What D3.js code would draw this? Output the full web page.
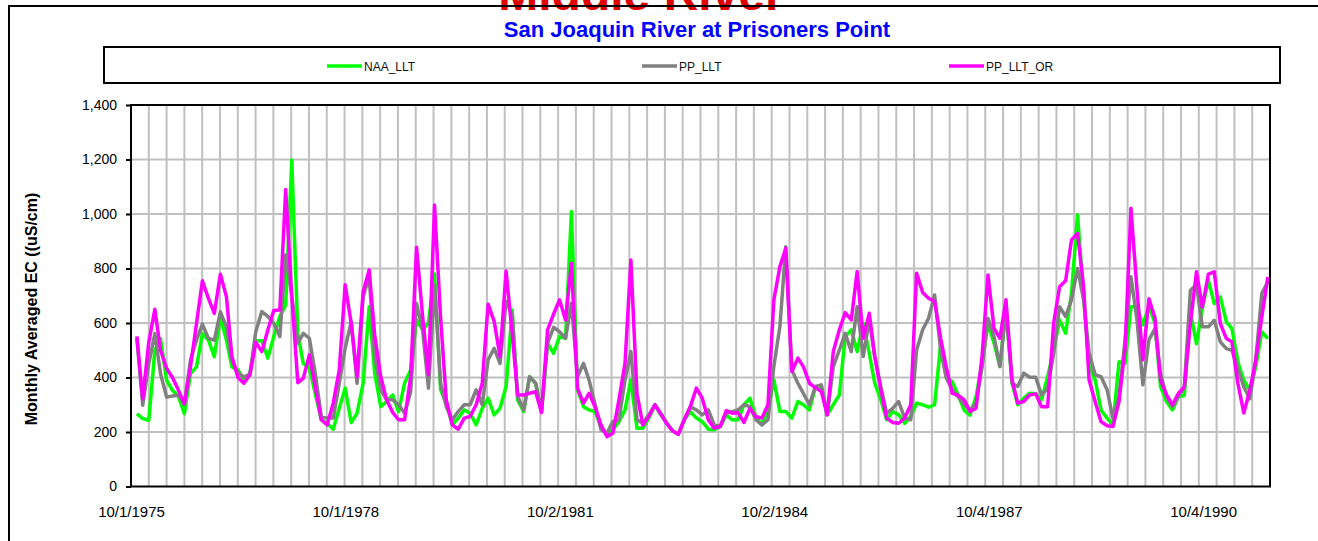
<!DOCTYPE html>
<html>
<head>
<meta charset="utf-8">
<script src="https://cdn.jsdelivr.net/npm/d3@7/dist/d3.min.js"></script>
<style>
  html, body { margin: 0; padding: 0; background: #fff; }
  svg { display: block; font-family: Arial, "Liberation Sans", sans-serif; }
</style>
</head>
<body>
<svg id="chart" width="1318" height="541"></svg>
<script>
// series names, first month (end of Oct 1975), x tick labels
const seriesNames = ['NAA_LLT', 'PP_LLT', 'PP_LLT_OR'];
const seriesColors = ['#00ff00', '#808080', '#ff00ff'];
const firstMonth = '1975-10';
const xTickLabels = ['10/1/1975', '10/1/1978', '10/2/1981', '10/2/1984', '10/4/1987', '10/4/1990'];
const yTicks = [0, 200, 400, 600, 800, 1000, 1200, 1400];

// monthly EC values (uS/cm)
const naaLLT = [
  267, 249, 243, 500, 543, 390, 353, 330, 267, 414, 439, 561, 537, 476, 622, 537, 439, 428, 391, 416,
  535, 535, 471, 550, 624, 666, 1198, 560, 452, 434, 342, 245, 232, 210, 287, 361, 235, 269, 379, 660,
  416, 293, 312, 336, 275, 379, 428, 611, 575, 600, 780, 355, 306, 226, 251, 281, 269, 226, 287, 324,
  263, 287, 367, 648, 318, 275, 403, 379, 275, 526, 489, 550, 544, 1009, 355, 293, 281, 275, 220, 190,
  208, 238, 281, 391, 214, 214, 251, 300, 265, 235, 205, 192, 245, 275, 251, 238, 210, 208, 220, 263,
  245, 245, 300, 324, 257, 226, 281, 391, 275, 275, 251, 312, 300, 281, 363, 367, 263, 300, 336, 550,
  575, 495, 599, 489, 379, 318, 245, 275, 263, 232, 257, 306, 300, 291, 300, 520, 403, 385, 336, 280,
  262, 330, 452, 599, 526, 440, 660, 379, 300, 324, 342, 340, 318, 403, 501, 611, 562, 709, 996, 697,
  440, 391, 281, 251, 226, 458, 452, 660, 660, 593, 660, 599, 367, 312, 281, 330, 335, 640, 524, 653,
  757, 671, 696, 604, 580, 457, 390, 353, 439, 567, 543
];
const ppLLT = [
  545, 298, 451, 561, 414, 328, 332, 335, 304, 463, 537, 596, 543, 537, 641, 586, 463, 416, 403, 410,
  569, 642, 624, 599, 550, 850, 700, 526, 562, 544, 416, 257, 251, 251, 379, 507, 605, 379, 697, 770,
  477, 355, 318, 318, 300, 269, 348, 672, 575, 361, 740, 379, 293, 245, 275, 300, 300, 355, 300, 465,
  507, 452, 680, 630, 330, 281, 403, 379, 275, 526, 584, 568, 544, 672, 403, 452, 391, 300, 208, 196,
  238, 245, 391, 495, 245, 232, 263, 300, 269, 235, 205, 192, 245, 293, 281, 263, 281, 226, 220, 269,
  275, 281, 300, 293, 245, 226, 245, 440, 587, 880, 428, 379, 342, 300, 367, 373, 263, 440, 501, 562,
  495, 660, 477, 611, 477, 367, 269, 287, 312, 251, 245, 501, 575, 617, 703, 500, 400, 355, 330, 300,
  281, 306, 440, 617, 550, 440, 648, 379, 367, 416, 401, 401, 336, 360, 489, 660, 624, 685, 800, 685,
  489, 410, 403, 355, 250, 330, 538, 770, 611, 373, 538, 580, 416, 330, 293, 330, 365, 720, 740, 586,
  586, 610, 531, 506, 500, 433, 365, 322, 463, 708, 751
];
const ppLLTOR = [
  551, 322, 530, 650, 500, 433, 400, 353, 302, 439, 598, 755, 690, 635, 779, 696, 476, 400, 379, 410,
  529, 495, 575, 646, 648, 1090, 700, 381, 397, 483, 367, 245, 226, 306, 428, 740, 599, 403, 715, 795,
  556, 403, 318, 272, 245, 245, 403, 878, 624, 410, 1033, 620, 318, 226, 210, 251, 257, 300, 379, 669,
  606, 477, 791, 562, 336, 336, 342, 348, 271, 575, 633, 685, 611, 819, 361, 306, 342, 293, 226, 183,
  196, 318, 452, 831, 342, 226, 257, 300, 269, 232, 205, 192, 245, 293, 361, 324, 245, 214, 220, 279,
  269, 271, 235, 287, 257, 251, 300, 685, 807, 874, 422, 471, 440, 379, 363, 348, 263, 495, 575, 638,
  611, 789, 544, 636, 477, 355, 251, 235, 232, 251, 300, 783, 712, 691, 679, 544, 440, 342, 335, 318,
  275, 287, 480, 776, 580, 544, 685, 391, 306, 312, 336, 340, 293, 293, 600, 733, 755, 905, 929, 733,
  391, 312, 238, 223, 220, 312, 507, 1021, 721, 465, 689, 618, 391, 336, 300, 342, 365, 600, 788, 659,
  779, 788, 598, 543, 531, 378, 270, 353, 463, 622, 769
];

const svg = d3.select('#chart');
const plot = { left: 131, right: 1270, top: 105, bottom: 486.5 };

const parseLabel = d3.timeParse('%m/%d/%Y');
const xStart = parseLabel(xTickLabels[0]);
// axis spans 64 quarters of 91 days, gridline every 91 days
const xEnd = d3.timeDay.offset(xStart, 64 * 91);

const x = d3.scaleTime().domain([xStart, xEnd]).range([plot.left, plot.right]);
const y = d3.scaleLinear().domain([0, 1400]).range([plot.bottom, plot.top]);

// month end dates for each value
const m0 = d3.timeParse('%Y-%m')(firstMonth);
const dates = naaLLT.map((v, i) => d3.timeDay.offset(d3.timeMonth.offset(m0, i + 1), -1));

// red heading, mostly above the top edge as in the source picture
svg.append('text')
  .attr('x', 641)
  .attr('y', 10)
  .attr('text-anchor', 'middle')
  .style('font-size', '48px')
  .style('font-weight', 'bold')
  .style('fill', '#e00000')
  .text('Middle River');

// outer chart frame
svg.append('path')
  .attr('d', 'M9,541 V6 H1318')
  .attr('fill', 'none')
  .attr('stroke', '#000')
  .attr('stroke-width', 2);

// title
svg.append('text')
  .attr('x', 697)
  .attr('y', 37)
  .attr('text-anchor', 'middle')
  .style('font-size', '22px')
  .style('font-weight', 'bold')
  .style('fill', '#0000ff')
  .text('San Joaquin River at Prisoners Point');

// legend
const legend = svg.append('g');
legend.append('rect')
  .attr('x', 104).attr('y', 47)
  .attr('width', 1176).attr('height', 36)
  .attr('fill', '#fff')
  .attr('stroke', '#000')
  .attr('stroke-width', 2);

const legendX = [327, 642, 949];
seriesNames.forEach((name, k) => {
  legend.append('line')
    .attr('x1', legendX[k]).attr('x2', legendX[k] + 35)
    .attr('y1', 66).attr('y2', 66)
    .attr('stroke', seriesColors[k])
    .attr('stroke-width', 3.5);
  legend.append('text')
    .attr('x', legendX[k] + 37)
    .attr('y', 70.5)
    .style('font-size', '12px')
    .style('fill', '#111')
    .text(name);
});

// gridlines
const grid = svg.append('g');
const quarterDates = d3.range(1, 64).map(k => d3.timeDay.offset(xStart, 91 * k));
grid.selectAll('.vgrid')
  .data(quarterDates)
  .enter()
  .append('line')
  .attr('x1', d => x(d)).attr('x2', d => x(d))
  .attr('y1', plot.top).attr('y2', plot.bottom)
  .attr('stroke', '#c0c0c0')
  .attr('stroke-width', 2);

grid.selectAll('.hgrid')
  .data(yTicks.filter(v => v > 0 && v < 1400))
  .enter()
  .append('line')
  .attr('x1', plot.left).attr('x2', plot.right)
  .attr('y1', d => y(d)).attr('y2', d => y(d))
  .attr('stroke', '#c0c0c0')
  .attr('stroke-width', 2);

// series lines, drawn in legend order
const series = [naaLLT, ppLLT, ppLLTOR];
const line = d3.line()
  .x((d, i) => x(dates[i]))
  .y(d => y(d));

series.forEach((values, k) => {
  svg.append('path')
    .datum(values)
    .attr('d', line)
    .attr('fill', 'none')
    .attr('stroke', seriesColors[k])
    .attr('stroke-width', 3.5)
    .attr('stroke-linejoin', 'round');
});

// plot frame
svg.append('rect')
  .attr('x', plot.left).attr('y', plot.top)
  .attr('width', plot.right - plot.left)
  .attr('height', plot.bottom - plot.top)
  .attr('fill', 'none')
  .attr('stroke', '#000')
  .attr('stroke-width', 2);

// y axis
const yAxis = svg.append('g')
  .attr('transform', `translate(${plot.left},0)`)
  .call(d3.axisLeft(y).tickValues(yTicks).tickFormat(d3.format(',')).tickSize(5).tickPadding(9));
yAxis.select('.domain').remove();
yAxis.selectAll('line').attr('stroke', '#000').attr('stroke-width', 2);
yAxis.selectAll('text').style('font-size', '14px').style('fill', '#000').attr('font-family', null);

// x axis
const xAxis = svg.append('g')
  .attr('transform', `translate(0,${plot.bottom})`)
  .call(d3.axisBottom(x)
    .tickValues(xTickLabels.map(parseLabel))
    .tickFormat((d, i) => xTickLabels[i])
    .tickSize(0)
    .tickPadding(20));
xAxis.select('.domain').remove();
xAxis.selectAll('text').style('font-size', '15px').style('fill', '#000').attr('font-family', null);

// y axis title
svg.append('text')
  .attr('transform', 'translate(37,309) rotate(-90)')
  .attr('text-anchor', 'middle')
  .style('font-size', '16px')
  .style('font-weight', 'bold')
  .style('fill', '#000')
  .text('Monthly Averaged  EC  ((uS/cm)');
</script>
</body>
</html>
